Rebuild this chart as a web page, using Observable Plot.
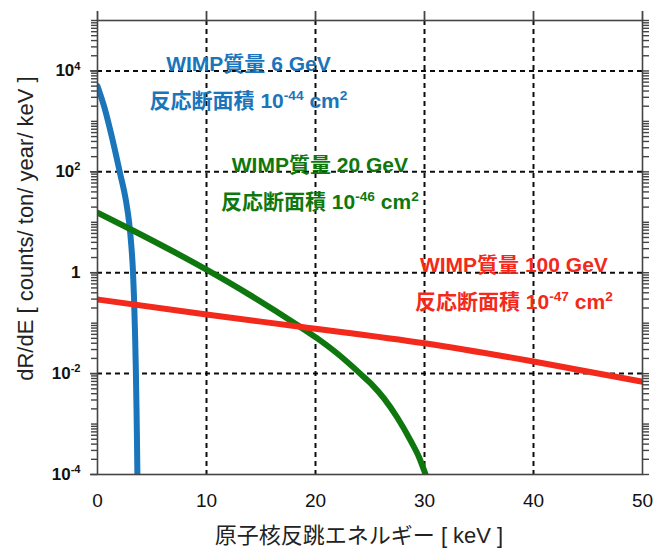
<!DOCTYPE html>
<html><head><meta charset="utf-8">
<script src="https://cdn.jsdelivr.net/npm/d3@7"></script>
<script src="https://cdn.jsdelivr.net/npm/@observablehq/plot@0.6"></script>
<style>
body{margin:0;background:#fff}
#chart{width:655px;height:552px}
</style>
</head><body><div id="chart"></div>
<script>
// ---- data ----
const energy6 = [0, 0.6, 1.2, 2.05, 2.62, 2.9, 3.1, 3.25, 3.35, 3.45, 3.52, 3.58, 3.62, 3.66];
const rate6   = [5000, 2000, 630, 98, 26, 10, 3.5, 1.12, 0.32, 0.056, 0.0112, 0.002, 0.0005, 0.0001];
const energy20 = [0, 3.3, 10, 14, 18.3, 20.1, 22, 24.1, 25.2, 26.3, 27.5, 28.7, 29.5, 30.1];
const rate20   = [15.5, 6.8, 1.15, 0.36, 0.093, 0.051, 0.025, 0.01, 0.006, 0.0032, 0.00135, 0.00048, 0.00022, 0.0001];
const energy100 = [0, 10, 18.6, 30, 40, 50];
const rate100   = [0.295, 0.148, 0.085, 0.040, 0.0174, 0.0069];

const seriesNames = ["6 GeV", "20 GeV", "100 GeV"];
const seriesColors = ["#1b75bb", "#0e780e", "#f2291b"];

const labelLine1 = ["WIMP質量 6 GeV", "WIMP質量 20 GeV", "WIMP質量 100 GeV"];
const labelLine2 = ["反応断面積 10^{-44} cm^{2}", "反応断面積 10^{-46} cm^{2}", "反応断面積 10^{-47} cm^{2}"];
const labelEnergy = [13.85, 20.4, 38.2];
const labelRate1 = [13500, 136, 1.39];
const labelRate2 = [2450, 25, 0.255];

const xTicks = [0, 10, 20, 30, 40, 50];
const xGrid = [10, 20, 30, 40];
const yTicks = [1e-4, 1e-2, 1, 1e2, 1e4];
const yTickLabels = ["10^{-4}", "10^{-2}", "1", "10^{2}", "10^{4}"];
const yGrid = [1e-2, 1, 1e2, 1e4];
const xLabel = "原子核反跳エネルギー [ keV ]";
const yLabel = "dR/dE [ counts/ ton/ year/ keV ]";

// ---- build tables ----
const curves = [];
[[energy6, rate6], [energy20, rate20], [energy100, rate100]].forEach(([es, rs], i) => {
  es.forEach((e, j) => curves.push({series: seriesNames[i], E: e, R: rs[j]}));
});
const labels = [];
seriesNames.forEach((s, i) => {
  labels.push({series: s, E: labelEnergy[i], R: labelRate1[i], text: labelLine1[i]});
  labels.push({series: s, E: labelEnergy[i], R: labelRate2[i], text: labelLine2[i]});
});
const minorY = [];
for (let d = -4; d <= 4; d++) for (let k = 1; k <= 9; k++) minorY.push(k * Math.pow(10, d));
minorY.push(1e5);

const font = "'Liberation Sans', Arial, 'Noto Sans CJK JP', sans-serif";
const gridStyle = {stroke: "#000", strokeOpacity: 0.95, strokeWidth: 2, strokeDasharray: "5,4"};

const chart = Plot.plot({
  width: 655,
  height: 552,
  marginLeft: 97,
  marginRight: 13,
  marginTop: 20,
  marginBottom: 78,
  style: {fontFamily: font, background: "#fff", color: "#111"},
  x: {domain: [0, 50], label: null},
  y: {type: "log", domain: [1e-4, 1e5], label: null},
  color: {domain: seriesNames, range: seriesColors},
  marks: [
    Plot.gridX(xGrid, gridStyle),
    Plot.gridY(yGrid, gridStyle),
    Plot.line(curves, {x: "E", y: "R", z: "series", stroke: "series", strokeWidth: 6, curve: "monotone-x", clip: true}),
    Plot.text(labels, {x: "E", y: "R", text: "text", fill: "series", fontSize: 21, fontWeight: "bold", textAnchor: "middle", lineAnchor: "middle"}),
    Plot.frame({stroke: "#444", strokeWidth: 1.6}),
    Plot.axisY({anchor: "left", ticks: minorY, tickSize: 6, tickFormat: () => "", stroke: "#444", strokeWidth: 1.4}),
    Plot.axisY({anchor: "left", ticks: yTicks, tickSize: 7, tickPadding: 10, stroke: "#444", strokeWidth: 1.6,
      tickFormat: (d) => yTickLabels[yTicks.indexOf(d)], fontSize: 17, fontWeight: "bold", fill: "#111"}),
    Plot.axisY({anchor: "right", ticks: minorY, tickSize: 6, tickFormat: () => "", stroke: "#444", strokeWidth: 1.4}),
    Plot.axisX({anchor: "top", ticks: xTicks, tickSize: 10, tickFormat: () => "", stroke: "#444", strokeWidth: 1.8}),
    Plot.axisX({anchor: "bottom", ticks: xTicks, tickSize: 0, tickPadding: 19, fontSize: 19, fill: "#111"}),
    Plot.text([xLabel], {frameAnchor: "bottom", dx: -11, dy: 61, text: d => d, fontSize: 22, fill: "#222", textAnchor: "middle", lineAnchor: "middle"}),
    Plot.text([yLabel], {frameAnchor: "left", dx: -72, dy: -19, rotate: -90, text: d => d, fontSize: 22, fill: "#222", textAnchor: "middle", lineAnchor: "middle"})
  ]
});
document.getElementById("chart").appendChild(chart);

// superscripts as real text tspans
const NS = "http://www.w3.org/2000/svg";
chart.querySelectorAll("text").forEach(t => {
  const s = t.textContent;
  if (!s.includes("^{")) return;
  const fs = parseFloat(getComputedStyle(t).fontSize) || 16;
  const shift = fs * 0.4;
  while (t.firstChild) t.removeChild(t.firstChild);
  const re = /\^\{([^}]*)\}/g;
  let last = 0, m, raised = false;
  const add = (txt, attrs) => {
    const ts = document.createElementNS(NS, "tspan");
    ts.textContent = txt;
    for (const k in attrs) ts.setAttribute(k, attrs[k]);
    t.appendChild(ts);
  };
  while ((m = re.exec(s))) {
    if (m.index > last) {
      add(s.slice(last, m.index), raised ? {dy: shift} : {});
      raised = false;
    }
    add(m[1], {dy: raised ? 0 : -shift, "font-size": (fs * 0.65).toFixed(1)});
    raised = true;
    last = re.lastIndex;
  }
  if (last < s.length) add(s.slice(last), raised ? {dy: shift} : {});
});
</script>
</body></html>
